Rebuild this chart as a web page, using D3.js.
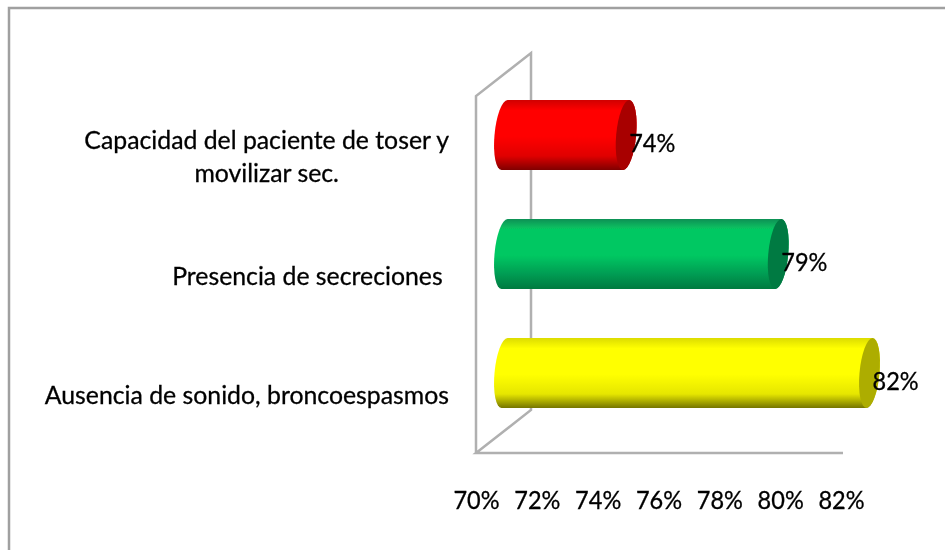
<!DOCTYPE html>
<html>
<head>
	<title>Cylinder bars</title>
	<style>
		html, body { margin: 0; padding: 0; background: #fff; overflow: hidden; }
		text { font-family: Lato, "Open Sans", sans-serif; fill: #000; stroke: #000; stroke-width: 0.3px; }
	</style>
</head>
<body>
	<script src="https://d3js.org/d3.v7.min.js"></script>

<script>

	// chart data, top bar first
	var categories = ["Capacidad del paciente de toser y\nmovilizar sec.", "Presencia de secreciones ", "Ausencia de sonido, broncoespasmos"];
	var values = [74, 79, 82];
	var xTicks = [70, 72, 74, 76, 78, 80, 82];
	var barColors = [
		{top: "#d00000", mid: "#ff0000", low: "#e00000", bottom: "#800000", cap: "#a80000"},
		{top: "#0a9055", mid: "#06c862", low: "#059a52", bottom: "#067a40", cap: "#067a42"},
		{top: "#dcdc00", mid: "#ffff00", low: "#e6e600", bottom: "#757500", cap: "#adad00"}
	];

	var width = 945,
	height = 550,
	floorY = 453,
	wallTop = 96,
	depthX = 28.5,    // how far the middle of the bars sits behind the front plane
	depthY = -21,
	wallX = 55,       // back wall offset
	wallY = -43,
	barHeight = 70,
	capRx = 10,
	skew = -5,
	lineColor = "#b0b0b0",
	labelSize = 24.8,
	percentSize = 24.5,
	percentSquash = 0.96;

	var svg = d3.select("body").append("svg")
		.attr("width", width)
		.attr("height", height)
		.style("display", "block");

	// the reference is a slightly soft raster, so everything gets a very light blur
	var defs = svg.append("defs");
	defs.append("filter").attr("id", "soft")
		.append("feGaussianBlur").attr("stdDeviation", 0.5);

	var grads = defs.selectAll("linearGradient").data(barColors).join("linearGradient")
		.attr("id", function(d, i) { return "bar" + i; })
		.attr("x1", 0).attr("y1", 0).attr("x2", 0).attr("y2", 1);
	grads.selectAll("stop")
		.data(function(d) {
			return [[0, d.top], [0.15, d.mid], [0.52, d.mid], [0.8, d.low], [1, d.bottom]];
		})
		.join("stop")
		.attr("offset", function(d) { return d[0]; })
		.attr("stop-color", function(d) { return d[1]; });

	var x = d3.scaleLinear().domain([70, 82]).range([476, 841]);
	var y = d3.scaleBand().domain(categories).range([wallTop, floorY]);

	var root = svg.append("g").attr("filter", "url(#soft)");

	// outer frame, only top and left show in the crop
	root.append("path")
		.attr("d", "M9,550V8H945")
		.attr("fill", "none")
		.attr("stroke", "#a0a0a0")
		.attr("stroke-width", 2.5);

	// 3d walls
	var x0 = x(70);
	root.append("path")
		.attr("d", [
			"M", x0, floorY, "V", wallTop,
			"L", x0 + wallX, wallTop + wallY, "V", floorY + wallY,
			"L", x0, floorY, "H", x(82) + 2
		].join(" "))
		.attr("fill", "none")
		.attr("stroke", lineColor)
		.attr("stroke-width", 2.5);

	// bars
	var bars = root.selectAll("g.bar").data(categories).join("g")
		.attr("class", "bar")
		.attr("transform", function(d) {
			return "translate(0," + (y(d) + y.bandwidth() / 2 + depthY + 0.5) + ") skewX(" + skew + ")";
		});

	bars.append("path")
		.attr("fill", function(d, i) { return "url(#bar" + i + ")"; })
		.attr("d", function(d, i) {
			var a = x(70) + depthX, b = x(values[i]) + depthX, r = barHeight / 2;
			return "M" + a + "," + (-r) +
				"H" + b +
				"A" + capRx + "," + r + " 0 0 1 " + b + "," + r +
				"H" + a +
				"A" + capRx + "," + r + " 0 0 1 " + a + "," + (-r) + "Z";
		});

	bars.append("ellipse")
		.attr("cx", function(d, i) { return x(values[i]) + depthX; })
		.attr("cy", 0)
		.attr("rx", capRx)
		.attr("ry", barHeight / 2)
		.attr("fill", function(d, i) { return barColors[i].cap; });

	// calibri-ish percent labels: tall but narrow
	function squash(sel) {
		sel.each(function() {
			this.setAttribute("lengthAdjust", "spacingAndGlyphs");
			this.setAttribute("textLength", this.getComputedTextLength() * percentSquash);
		});
	}

	// value labels
	root.selectAll("text.value").data(categories).join("text")
		.attr("class", "value")
		.attr("x", function(d, i) { return x(values[i]) + depthX + 3; })
		.attr("y", function(d) { return y(d) + y.bandwidth() / 2 + depthY + 17.5; })
		.attr("font-size", percentSize)
		.text(function(d, i) { return values[i] + "%"; })
		.call(squash);

	// category labels: block ends at the axis, lines centred inside the block
	var labelRight = 449;
	root.selectAll("text.cat").data(categories).join("text")
		.attr("class", "cat")
		.attr("font-size", labelSize)
		.style("white-space", "pre")
		.each(function(d) {
			var t = d3.select(this),
				lines = d.split("\n"),
				mid = y(d) + y.bandwidth() / 2,
				spans = t.selectAll("tspan").data(lines).join("tspan").text(function(l) { return l; }),
				widest = d3.max(spans.nodes(), function(n) { return n.getComputedTextLength(); });
			t.attr("text-anchor", "middle");
			spans.attr("x", labelRight - widest / 2)
				.attr("y", function(l, i) { return mid + 10 + (i - (lines.length - 1) / 2) * 33; });
		});

	// x axis, no line or tick marks
	var axis = d3.axisBottom(x)
		.tickValues(xTicks)
		.tickSize(0)
		.tickFormat(function(d) { return d + "%"; });

	var axisG = root.append("g")
		.attr("transform", "translate(0,492.5)")
		.call(axis);
	axisG.select(".domain").remove();
	axisG.selectAll("text")
		.attr("font-size", percentSize)
		.attr("font-family", null)
		.attr("dy", "0.66em")
		.attr("y", 0)
		.call(squash);

</script>
</body>
</html>
